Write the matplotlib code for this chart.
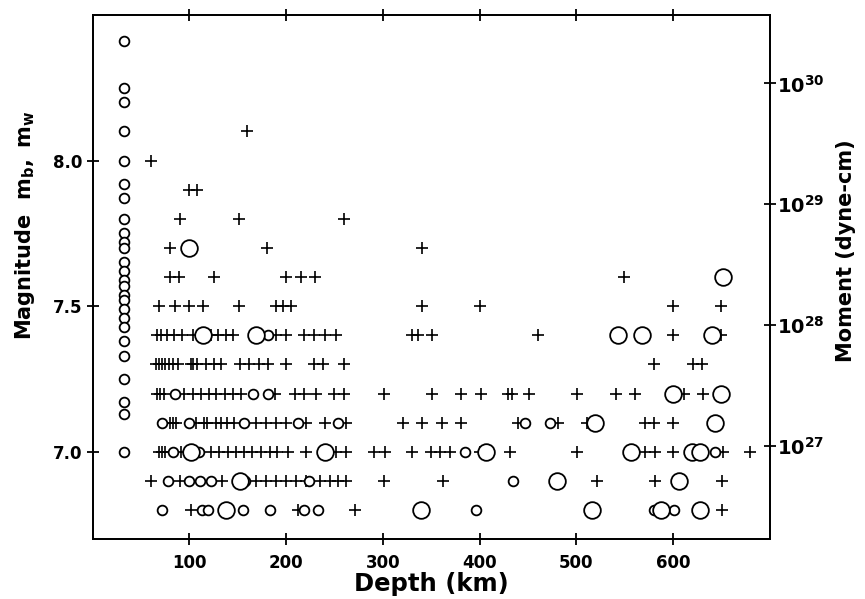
import matplotlib.pyplot as plt

plt.rcParams['font.family'] = ['DejaVu Sans']
plt.rcParams['font.weight'] = 'bold'
plt.rcParams['mathtext.default'] = 'bf'

# shallow events: moment magnitude, plotted at a nominal depth
shallow_depth = 33
shallow_mw = [8.41, 8.25, 8.20, 8.10, 8.00, 7.92, 7.87, 7.80, 7.75, 7.72, 7.70,
              7.65, 7.62, 7.59, 7.57, 7.54, 7.52, 7.49, 7.46, 7.43, 7.38, 7.33,
              7.25, 7.17, 7.13, 7.00]

# body wave magnitude (+) of intermediate and deep events, one list per row
mb_rows = [8.1, 8.0, 7.9, 7.8, 7.7, 7.6, 7.5, 7.4, 7.3, 7.2, 7.1, 7.0, 6.9, 6.8]
mb_81 = [160]
mb_80 = [60]
mb_79 = [100, 108]
mb_78 = [90, 151, 260]
mb_77 = [80, 180, 340]
mb_76 = [80, 89, 125, 200, 215, 230, 549]
mb_75 = [69, 85, 100, 114, 151, 190, 197, 205, 340, 400, 600, 650]
mb_74 = [67, 71, 77, 84, 92, 104, 122, 130, 138, 145, 190, 200, 219, 229, 240,
         252, 330, 336, 351, 460, 600, 650]
mb_73 = [66, 69, 72, 75, 79, 83, 88, 102, 104, 108, 117, 126, 133, 152, 162,
         172, 181, 200, 229, 238, 260, 580, 621, 630]
mb_72 = [67, 70, 74, 95, 104, 112, 120, 128, 137, 145, 153, 189, 209, 219, 231,
         250, 260, 301, 351, 381, 401, 429, 433, 451, 501, 541, 561, 611, 631]
mb_71 = [80, 83, 86, 107, 115, 118, 128, 133, 139, 146, 169, 179, 190, 200,
         221, 240, 262, 321, 341, 361, 381, 440, 481, 511, 571, 580, 600]
mb_70 = [69, 72, 75, 91, 122, 131, 140, 148, 157, 165, 174, 183, 191, 202, 221,
         252, 262, 291, 302, 330, 350, 359, 369, 400, 431, 501, 571, 581, 600,
         652, 680]
mb_69 = [60, 90, 134, 169, 179, 190, 200, 210, 221, 235, 245, 254, 262, 301,
         362, 521, 581, 651]
mb_68 = [102, 212, 271, 651]
mb_depths = [mb_81, mb_80, mb_79, mb_78, mb_77, mb_76, mb_75, mb_74, mb_73,
             mb_72, mb_71, mb_70, mb_69, mb_68]

# moment magnitude of intermediate and deep events (small circles)
small_depth = [181, 85, 166, 181, 72, 100, 157, 212, 254, 447, 473,
               83, 110, 385, 643, 78, 100, 111, 122, 158, 224, 435,
               72, 113, 119, 155, 183, 219, 233, 396, 580, 601]
small_mag = [7.4, 7.2, 7.2, 7.2, 7.1, 7.1, 7.1, 7.1, 7.1, 7.1, 7.1,
             7.0, 7.0, 7.0, 7.0, 6.9, 6.9, 6.9, 6.9, 6.9, 6.9, 6.9,
             6.8, 6.8, 6.8, 6.8, 6.8, 6.8, 6.8, 6.8, 6.8, 6.8]

# large circles
big_depth = [100, 652, 114, 169, 543, 568, 640, 600, 650, 519, 643,
             102, 240, 407, 557, 620, 628, 152, 480, 606,
             138, 339, 516, 588, 628]
big_mag = [7.7, 7.6, 7.4, 7.4, 7.4, 7.4, 7.4, 7.2, 7.2, 7.1, 7.1,
           7.0, 7.0, 7.0, 7.0, 7.0, 7.0, 6.9, 6.9, 6.9,
           6.8, 6.8, 6.8, 6.8, 6.8]

# right axis: seismic moment decades and their magnitude positions
moment_exp = [27, 28, 29, 30]
moment_mag = [7.02, 7.435, 7.85, 8.265]

fig = plt.figure(figsize=(8.65, 5.99), dpi=100)
ax = fig.add_axes([0.107, 0.100, 0.783, 0.875])

for mag, depths in zip(mb_rows, mb_depths):
    ax.plot(depths, [mag] * len(depths), linestyle='none', marker='+',
            markersize=8, markeredgewidth=1.2, color='black', zorder=2)

ax.plot([shallow_depth] * len(shallow_mw), shallow_mw, linestyle='none',
        marker='o', markersize=7, markeredgewidth=1.3, markerfacecolor='white',
        markeredgecolor='black', zorder=3)
ax.plot(small_depth, small_mag, linestyle='none', marker='o', markersize=7,
        markeredgewidth=1.3, markerfacecolor='white', markeredgecolor='black',
        zorder=3)
ax.plot(big_depth, big_mag, linestyle='none', marker='o', markersize=12,
        markeredgewidth=1.3, markerfacecolor='white', markeredgecolor='black',
        zorder=4)

ax.set_xlim(0, 700)
ax.set_ylim(6.70, 8.50)
ax.set_xticks([100, 200, 300, 400, 500, 600])
ax.set_yticks([7.0, 7.5, 8.0])
ax.set_yticklabels(['7.0', '7.5', '8.0'])
ax.tick_params(axis='both', direction='inout', length=9, width=1.3,
               labelsize=12, top=True, pad=3)
ax.tick_params(axis='x', pad=6)
for s in ax.spines.values():
    s.set_linewidth(1.3)

ax.set_xlabel('Depth (km)', fontsize=17.5, fontweight='bold', labelpad=0)
ax.set_ylabel(r'Magnitude  $\mathbf{m_b,\ m_w}$', fontsize=15,
              fontweight='bold')
ax.yaxis.set_label_coords(-0.082, 0.60)

ax2 = ax.twinx()
ax2.set_ylim(ax.get_ylim())
ax2.set_yticks(moment_mag)
ax2.set_yticklabels([r'$\mathbf{10^{%d}}$' % e for e in moment_exp])
ax2.tick_params(axis='y', direction='inout', length=9, width=1.3,
                labelsize=14, pad=1)
ax2.set_ylabel('Moment (dyne-cm)', fontsize=15, fontweight='bold')
ax2.yaxis.set_label_coords(1.097, 0.55)
for s in ax2.spines.values():
    s.set_linewidth(1.3)

fig.savefig('out.png', dpi=100)
